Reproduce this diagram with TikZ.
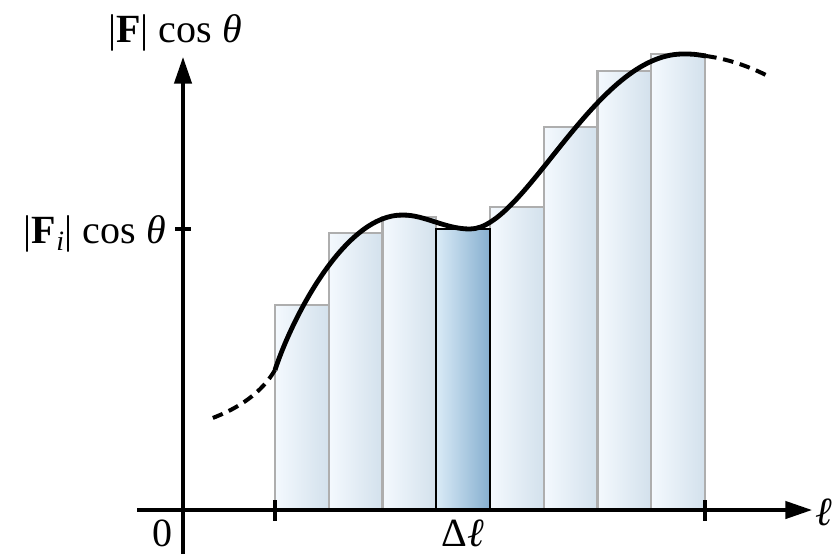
\documentclass[tikz,border=0pt]{standalone}
\usepackage{fontspec}
\setmainfont{Liberation Serif}
\usetikzlibrary{arrows.meta}

\definecolor{barL}{HTML}{F4F9FE}
\definecolor{barR}{HTML}{D3E1EC}
\definecolor{hiL}{HTML}{DAEBF7}
\definecolor{hiR}{HTML}{86AFCF}
\definecolor{edgegray}{HTML}{AEAEAE}

\begin{document}
\begin{tikzpicture}[x=0.75pt, y=-0.75pt,
  axis/.style={line width=2.5pt, -{Triangle[length=20pt,width=13pt]}},
  tick/.style={line width=2.5pt},
  bar/.style={draw=edgegray, line width=1.8pt, left color=barL, right color=barR},
  hibar/.style={draw=black, line width=1.8pt, left color=hiL, right color=hiR},
  curve/.style={line width=3.6pt},
  ext/.style={line width=3pt, dash pattern=on 8pt off 5pt},
  lab/.style={font=\fontsize{30}{34}\selectfont, inner sep=0pt}]
\useasboundingbox (0,0) rectangle (838,554);

% bars under the curve
\foreach \i/\top in {0/305,1/233,2/217,4/207,5/127,6/71,7/54}
  \draw[bar] ({275+53.75*\i},510) rectangle ({275+53.75*(\i+1)},\top);
\draw[hibar] (436.25,510) rectangle (490,229);

% axes
\coordinate (xs) at (137,510);
\coordinate (xe) at (812,510);
\coordinate (ys) at (183,554);
\coordinate (ye) at (183,57);
\draw[axis] (xs) -- (xe);
\draw[axis] (ys) -- (ye);
\foreach \x in {275,705}
  \draw[tick] (\x,500) -- (\x,521);
\draw[tick] (175,229) -- (191,229);

% the force curve
\draw[curve] (275,370) .. controls (292,318) and (345,214) .. (403,215)
  .. controls (425,215) and (445,229) .. (470,229)
  .. controls (525,229) and (595,54) .. (683,54)
  .. controls (693,54) .. (706,56);
\draw[ext] (275,370) .. controls (262,392) and (240,408) .. (210,419);
\draw[ext] (706,56) .. controls (728,59) and (748,66) .. (768,76);

% labels
\node[lab, anchor=base] (ylab) at (175,42) {|\textbf{F}| cos \textit{θ}};
\node[lab, anchor=base east] (filab) at (166,243)
  {|\textbf{F}\textsubscript{\textit{i}}| cos \textit{θ}};
\node[lab, anchor=base] (zero) at (162,546) {0};
\node[lab, anchor=base] (dl) at (463,546) {Δ\textit{ℓ}};
\node[lab, anchor=west] (xlab) at (815,512) {\textit{ℓ}};
\end{tikzpicture}
\end{document}
